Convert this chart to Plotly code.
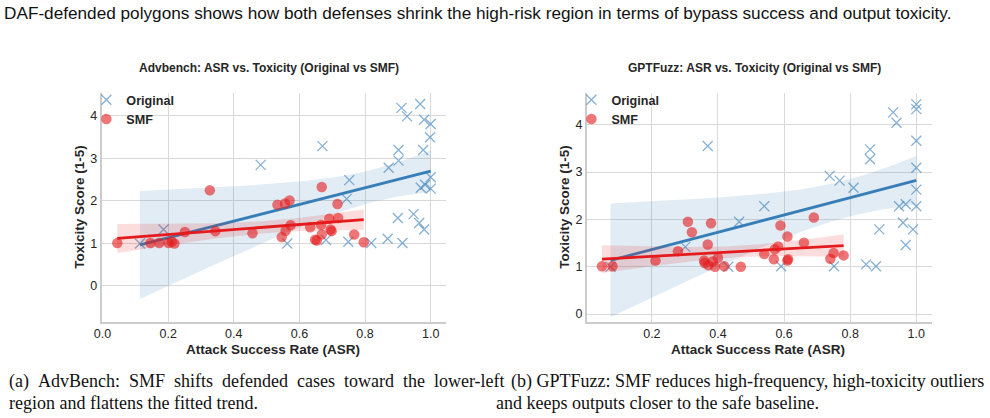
import numpy as np
import plotly.graph_objects as go

# ---------------- data ----------------
ADV_ORIG_X = [0.114, 0.186, 0.482, 0.563, 0.670, 0.681, 0.744, 0.749, 0.752, 0.819,
              0.869, 0.872, 0.900, 0.902, 0.902, 0.911, 0.914, 0.928, 0.948, 0.965,
              0.968, 0.970, 0.977, 0.980, 0.980, 0.983, 0.998, 1.000, 1.000, 1.000]
ADV_ORIG_Y = [1.00, 1.33, 2.85, 1.00, 3.29, 1.08, 2.05, 1.04, 2.49, 1.01,
              1.11, 2.78, 1.60, 2.95, 3.20, 4.19, 1.01, 3.99, 1.69, 1.48,
              4.28, 2.31, 3.20, 3.91, 1.33, 2.38, 3.50, 3.81, 2.56, 2.29]
ADV_SMF_X = [0.045, 0.146, 0.173, 0.201, 0.211, 0.219, 0.251, 0.327, 0.344, 0.457,
             0.533, 0.546, 0.556, 0.558, 0.570, 0.573, 0.633, 0.648, 0.653, 0.666,
             0.668, 0.668, 0.691, 0.695, 0.698, 0.716, 0.718, 0.767, 0.796]
ADV_SMF_Y = [1.01, 1.01, 1.01, 1.01, 1.04, 1.00, 1.27, 2.25, 1.29, 1.24,
             1.91, 1.15, 1.94, 1.30, 2.01, 1.43, 1.38, 1.09, 1.07, 1.44,
             2.33, 1.21, 1.58, 1.33, 1.29, 1.93, 1.60, 1.21, 1.03]

GPT_ORIG_X = [0.075, 0.301, 0.369, 0.431, 0.464, 0.540, 0.591, 0.738, 0.751, 0.768,
              0.810, 0.848, 0.860, 0.860, 0.878, 0.888, 0.930, 0.940, 0.948, 0.960,
              0.968, 0.968, 0.990, 1.000, 1.000, 1.000, 1.000, 1.000, 1.000]
GPT_ORIG_Y = [1.00, 1.42, 3.55, 1.00, 1.95, 2.28, 1.01, 2.92, 1.01, 2.82,
              2.67, 1.05, 3.48, 3.27, 1.01, 1.79, 4.26, 4.04, 2.28, 1.93,
              2.32, 1.46, 1.79, 4.43, 4.33, 3.66, 3.09, 2.63, 2.28]
GPT_SMF_X = [0.049, 0.081, 0.211, 0.279, 0.309, 0.321, 0.358, 0.360, 0.369, 0.371,
             0.379, 0.384, 0.391, 0.400, 0.419, 0.469, 0.540, 0.569, 0.572, 0.582,
             0.589, 0.610, 0.610, 0.612, 0.660, 0.690, 0.740, 0.750, 0.780]
GPT_SMF_Y = [1.01, 1.01, 1.13, 1.33, 1.95, 1.73, 1.13, 1.08, 1.47, 1.03,
             1.92, 1.11, 1.00, 1.19, 1.01, 1.00, 1.27, 1.16, 1.37, 1.43,
             1.87, 1.64, 1.13, 1.16, 1.51, 2.04, 1.17, 1.29, 1.24]

TITLES = ["Advbench: ASR vs. Toxicity (Original vs SMF)",
          "GPTFuzz: ASR vs. Toxicity (Original vs SMF)"]
X_LABEL = "Attack Success Rate (ASR)"
Y_LABEL = "Toxicity Score (1-5)"
SERIES = ["Original", "SMF"]
TOP_TEXT = ("DAF-defended polygons shows how both defenses shrink the high-risk region "
            "in terms of bypass success and output toxicity.")
NB = "\u00a0"
CAPTION_A = [(NB * 2).join("(a) AdvBench: SMF shifts defended cases toward the lower-left".split(" ")),
             "region and flattens the fitted trend."]
CAPTION_B = ["(b) GPTFuzz: SMF reduces high-frequency, high-toxicity outliers",
             "and keeps outputs closer to the safe baseline."]

# ---------------- style ----------------
W, H = 990, 418
BLUE = "#377eb8"
RED = "#e41a1c"
SANS = "Liberation Sans, Arial, sans-serif"
SERIF = "Liberation Serif, Times New Roman, serif"
GRID = "#d9d9d9"
TXT = "#262626"

def px_x(p):
    return p / W

def px_y(p):
    return 1 - p / H

panels = [
    dict(ox=ADV_ORIG_X, oy=ADV_ORIG_Y, sx=ADV_SMF_X, sy=ADV_SMF_Y,
         dom_x=(94.3, 442.0), xr=[-0.003, 1.048], yr=[-0.84, 4.54], cx=267),
    dict(ox=GPT_ORIG_X, oy=GPT_ORIG_Y, sx=GPT_SMF_X, sy=GPT_SMF_Y,
         dom_x=(583.3, 931.7), xr=[0.0025, 1.048], yr=[-0.16, 4.67], cx=756),
]
DOM_Y = (px_y(321.7), px_y(93.0))


def fit_band(x, y, n=100):
    x = np.asarray(x, float)
    y = np.asarray(y, float)
    b, a = np.polyfit(x, y, 1)
    xs = np.linspace(x.min(), x.max(), n)
    yhat = a + b * xs
    resid = y - (a + b * x)
    dof = len(x) - 2
    s = np.sqrt(np.sum(resid ** 2) / dof)
    sxx = np.sum((x - x.mean()) ** 2)
    se = s * np.sqrt(1.0 / len(x) + (xs - x.mean()) ** 2 / sxx)
    t = 2.05
    return xs, yhat, yhat - t * se, yhat + t * se


fig = go.Figure()
annotations = []

for i, p in enumerate(panels):
    xa = "x" if i == 0 else "x2"
    ya = "y" if i == 0 else "y2"
    leg = "legend" if i == 0 else "legend2"
    for name, xs_, ys_, col, sym in [(SERIES[0], p["ox"], p["oy"], BLUE, "x-thin"),
                                      (SERIES[1], p["sx"], p["sy"], RED, "circle")]:
        if sym == "x-thin":
            marker = dict(symbol="x-thin", size=10, color=col, opacity=0.6,
                          line=dict(color=col, width=1.3))
        else:
            marker = dict(symbol="circle", size=10.5, color=col, opacity=0.6,
                          line=dict(width=0))
        fig.add_trace(go.Scatter(x=xs_, y=ys_, mode="markers", name=name,
                                 marker=marker, xaxis=xa, yaxis=ya,
                                 legend=leg, showlegend=True, hoverinfo="skip"))
        gx, gy, lo, hi = fit_band(xs_, ys_)
        fig.add_trace(go.Scatter(x=np.concatenate([gx, gx[::-1]]),
                                 y=np.concatenate([hi, lo[::-1]]),
                                 mode="lines", fill="toself",
                                 fillcolor=("rgba(55,126,184,0.15)" if col == BLUE
                                            else "rgba(228,26,28,0.15)"),
                                 line=dict(width=0), xaxis=xa, yaxis=ya,
                                 showlegend=False, hoverinfo="skip"))
        fig.add_trace(go.Scatter(x=gx, y=gy, mode="lines",
                                 line=dict(color=col, width=2.8),
                                 xaxis=xa, yaxis=ya, showlegend=False,
                                 hoverinfo="skip"))
    # titles and axis labels
    cxt = (p["dom_x"][0] + p["dom_x"][1]) / 2
    annotations.append(dict(text="<b>%s</b>" % TITLES[i], x=px_x(cxt - 5), y=px_y(68),
                            xref="paper", yref="paper", showarrow=False,
                            xanchor="center", yanchor="middle",
                            font=dict(family=SANS, size=12, color=TXT)))
    annotations.append(dict(text="<b>%s</b>" % X_LABEL, x=px_x(p["cx"]), y=px_y(349),
                            xref="paper", yref="paper", showarrow=False,
                            xanchor="center", yanchor="middle",
                            font=dict(family=SANS, size=13.5, color=TXT)))
    annotations.append(dict(text="<b>%s</b>" % Y_LABEL,
                            x=px_x(p["dom_x"][0] - 23), y=px_y(207),
                            xref="paper", yref="paper", showarrow=False,
                            textangle=-90, xanchor="center", yanchor="middle",
                            font=dict(family=SANS, size=13.5, color=TXT)))

axis_common = dict(showgrid=True, gridcolor=GRID, gridwidth=1.2, zeroline=False,
                   ticks="", tickfont=dict(family=SANS, size=12.5, color=TXT),
                   showline=True, linecolor="#cccccc", linewidth=1.5, mirror=False)

legend_font = dict(family=SANS, size=12.6, color=TXT, weight="bold")
layout = dict(
    width=W, height=H, margin=dict(l=0, r=0, t=0, b=0),
    paper_bgcolor="white", plot_bgcolor="white",
    xaxis=dict(domain=[px_x(panels[0]["dom_x"][0]), px_x(panels[0]["dom_x"][1])],
               range=panels[0]["xr"], anchor="y", tickvals=[0, 0.2, 0.4, 0.6, 0.8, 1.0],
               ticktext=["0.0", "0.2", "0.4", "0.6", "0.8", "1.0"], **axis_common),
    yaxis=dict(domain=list(DOM_Y), range=panels[0]["yr"], anchor="x",
               tickvals=[0, 1, 2, 3, 4], **axis_common),
    xaxis2=dict(domain=[px_x(panels[1]["dom_x"][0]), px_x(panels[1]["dom_x"][1])],
                range=panels[1]["xr"], anchor="y2", tickvals=[0.2, 0.4, 0.6, 0.8, 1.0],
                ticktext=["0.2", "0.4", "0.6", "0.8", "1.0"], **axis_common),
    yaxis2=dict(domain=list(DOM_Y), range=panels[1]["yr"], anchor="x2",
                tickvals=[0, 1, 2, 3, 4], **axis_common),
    legend=dict(x=px_x(79), y=px_y(85), xanchor="left", yanchor="top",
                bgcolor="rgba(0,0,0,0)", borderwidth=0, tracegroupgap=0,
                font=legend_font),
    legend2=dict(x=px_x(568), y=px_y(85), xanchor="left", yanchor="top",
                 bgcolor="rgba(0,0,0,0)", borderwidth=0, tracegroupgap=0,
                 font=legend_font),
    showlegend=True,
)

# page-level texts
annotations.append(dict(text=TOP_TEXT, x=0, y=px_y(13), xref="paper", yref="paper",
                        showarrow=False, xanchor="left", yanchor="middle", xshift=-6,
                        font=dict(family=SANS, size=17.2, color="#111111")))
cap_lines = [(CAPTION_A[0], 8, 381, -9), (CAPTION_A[1], 8, 403, -9),
             (CAPTION_B[0], 512, 381, -7), (CAPTION_B[1], 497, 403, -7)]
for t, x0, y0, sh in cap_lines:
    annotations.append(dict(text=t, x=px_x(x0), y=px_y(y0), xref="paper", yref="paper",
                            showarrow=False, xanchor="left", yanchor="middle", xshift=sh,
                            font=dict(family=SERIF, size=18, color="#111111")))

layout["annotations"] = annotations
fig.update_layout(**layout)
fig.write_html("out.html")
